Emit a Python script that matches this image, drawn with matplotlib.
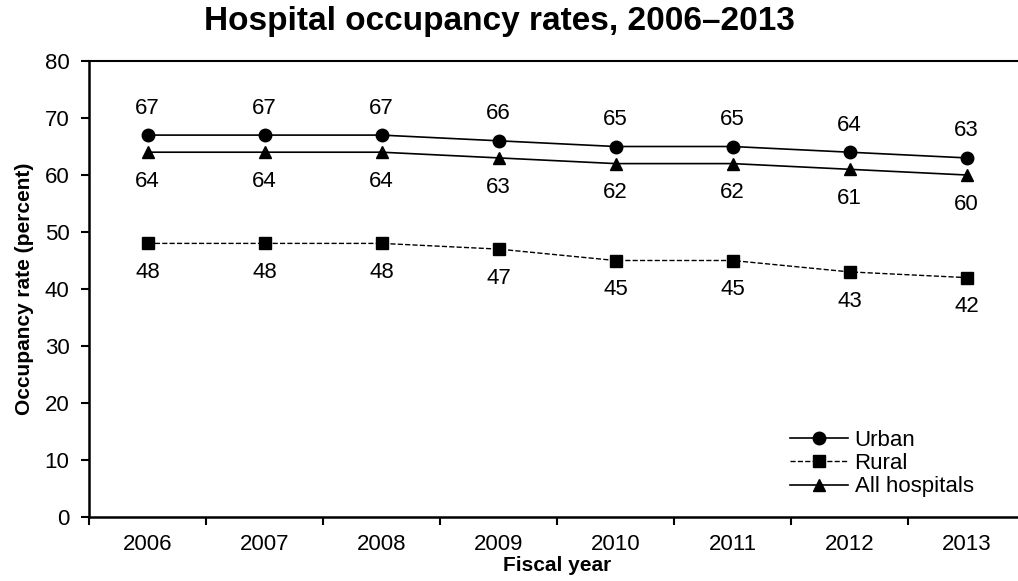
import numpy as np
import matplotlib.pyplot as plt

plt.rcParams['font.family'] = ['Liberation Sans', 'DejaVu Sans']

years = ['2006', '2007', '2008', '2009', '2010', '2011', '2012', '2013']
urban = [67, 67, 67, 66, 65, 65, 64, 63]
rural = [48, 48, 48, 47, 45, 45, 43, 42]
all_hosp = [64, 64, 64, 63, 62, 62, 61, 60]

fig = plt.figure(figsize=(10.18, 5.81), dpi=100)
ax = fig.add_axes([89 / 1018, 1 - 517 / 581, (1025 - 89) / 1018, (517 - 61) / 581])

x = np.arange(len(years))
ax.plot(x, urban, '-o', color='black', lw=1.2, ms=9, label='Urban')
ax.plot(x, rural, '--s', color='black', lw=1.0, ms=9, label='Rural')
ax.plot(x, all_hosp, '-^', color='black', lw=1.2, ms=9, label='All hospitals')

for xi, u, r, a in zip(x, urban, rural, all_hosp):
    ax.annotate(str(u), (xi, u), xytext=(0, 19.5), textcoords='offset points',
                ha='center', va='center', fontsize=16)
    ax.annotate(str(a), (xi, a), xytext=(0, -21), textcoords='offset points',
                ha='center', va='center', fontsize=16)
    ax.annotate(str(r), (xi, r), xytext=(0, -21), textcoords='offset points',
                ha='center', va='center', fontsize=16)

ax.set_xlim(-0.5, len(years) - 0.5)
ax.set_ylim(0, 80)
ax.set_yticks(range(0, 81, 10))
ax.set_xticks(x)
ax.set_xticklabels(years)
ax.set_xticks(np.arange(-0.5, len(years), 1), minor=True)
ax.tick_params(axis='x', which='major', length=0, labelsize=16, pad=12)
ax.tick_params(axis='x', which='minor', length=6, width=1.5, direction='out')
ax.tick_params(axis='y', length=6, width=1.5, direction='out', labelsize=16, pad=8)

for s in ['left', 'bottom']:
    ax.spines[s].set_linewidth(1.8)
ax.spines['top'].set_linewidth(1.5)
ax.spines['right'].set_visible(False)

ax.set_xlabel('Fiscal year', fontsize=15, fontweight='bold', labelpad=1)
ax.set_ylabel('Occupancy rate (percent)', fontsize=15, fontweight='bold', labelpad=8)
fig.suptitle('Hospital occupancy rates, 2006\u20132013', fontsize=24, fontweight='bold',
             x=0.491, y=0.99)

leg = ax.legend(loc='lower left', bbox_to_anchor=(0.749, 0.043), frameon=False,
                fontsize=16, handlelength=2.6, handletextpad=0.3, labelspacing=0.1,
                borderpad=0, borderaxespad=0)

fig.savefig('out.png', dpi=100)
